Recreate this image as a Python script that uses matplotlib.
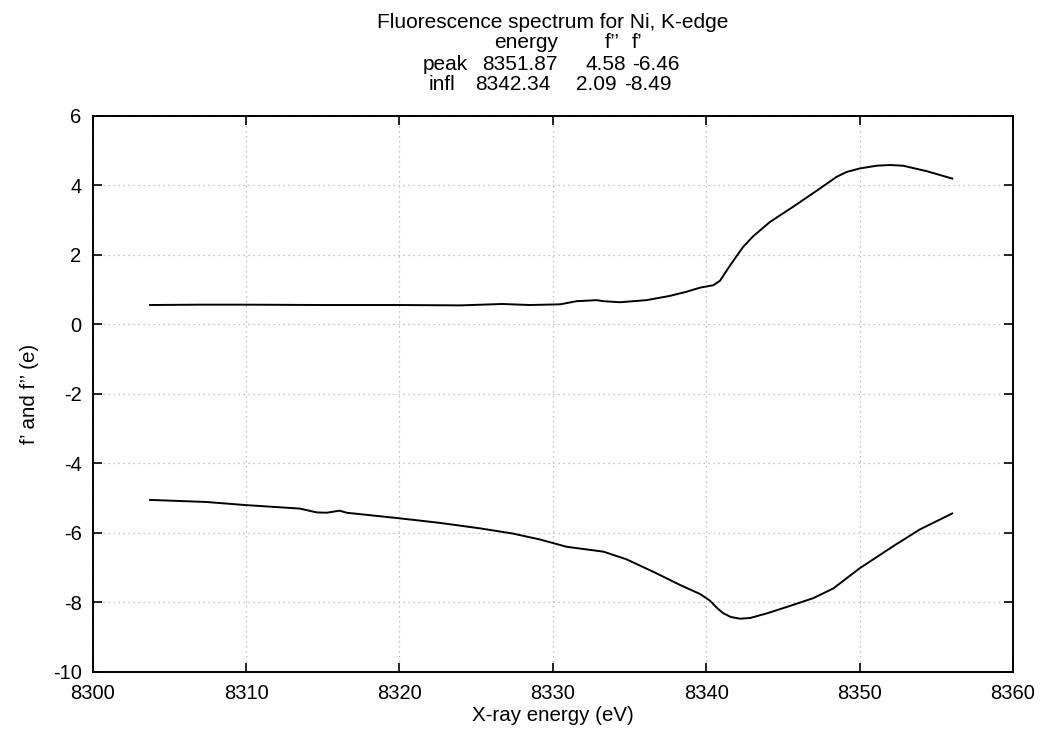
import matplotlib
matplotlib.use("Agg")
import matplotlib.pyplot as plt

plt.rcParams['font.family'] = ['Liberation Sans', 'DejaVu Sans']
plt.rcParams['axes.unicode_minus'] = False

# f'' (upper curve)
fpp_energy = [8303.74, 8307.0, 8310.0, 8315.0, 8320.0, 8324.0, 8326.7, 8328.5, 8330.47,
              8331.55, 8332.85, 8333.3, 8334.38, 8336.1, 8337.6, 8338.7, 8339.6, 8340.46,
              8340.9, 8341.6, 8342.4, 8343.06, 8344.15, 8345.67, 8347.2, 8348.5, 8349.15,
              8350.0, 8351.1, 8351.97, 8352.84, 8354.4, 8356.04]
fpp_value = [0.55, 0.56, 0.56, 0.55, 0.55, 0.54, 0.58, 0.55, 0.57,
             0.66, 0.69, 0.66, 0.63, 0.69, 0.81, 0.93, 1.05, 1.12,
             1.25, 1.72, 2.22, 2.53, 2.94, 3.38, 3.84, 4.24, 4.38,
             4.48, 4.56, 4.58, 4.56, 4.40, 4.19]

# f' (lower curve)
fp_energy = [8303.74, 8307.4, 8310.0, 8313.5, 8314.6, 8315.25, 8316.1, 8316.56, 8320.0,
             8322.6, 8325.26, 8327.4, 8329.16, 8330.9, 8333.3, 8334.8, 8336.55, 8338.3,
             8339.6, 8340.24, 8340.7, 8341.1, 8341.6, 8342.2, 8342.86, 8344.0, 8345.2,
             8346.97, 8348.28, 8350.0, 8352.2, 8353.93, 8356.04]
fp_value = [-5.06, -5.12, -5.21, -5.31, -5.42, -5.43, -5.37, -5.43, -5.59,
            -5.72, -5.88, -6.03, -6.20, -6.41, -6.55, -6.77, -7.13, -7.51,
            -7.77, -7.96, -8.17, -8.32, -8.43, -8.48, -8.46, -8.32, -8.15,
            -7.89, -7.61, -7.03, -6.39, -5.91, -5.45]

# summary table shown in the title
table_header = ["energy", "f\u2019\u2019", "f\u2019"]
table_rows = ["peak", "infl"]
table_energy = ["8351.87", "8342.34"]
table_fpp = ["4.58", "2.09"]
table_fp = ["-6.46", "-8.49"]

W, H = 1042, 738
fig = plt.figure(figsize=(W / 100, H / 100), dpi=100)
ax = fig.add_axes([92.7 / W, 1 - 671.5 / H, (1013 - 92.7) / W, (671.5 - 115.7) / H])

ax.plot(fpp_energy, fpp_value, color='black', lw=1.4)
ax.plot(fp_energy, fp_value, color='black', lw=1.4)

ax.set_xlim(8300, 8360)
ax.set_ylim(-10, 6)
ax.set_xticks(range(8300, 8361, 10))
ax.set_yticks(range(-10, 7, 2))
ax.grid(True, color='#b0b0b0', linestyle=(0, (1, 3)), lw=0.9)
ax.tick_params(direction='in', top=True, right=True, length=6.5, width=1.2,
               labelsize=14.5)
ax.tick_params(axis='x', pad=9)
ax.tick_params(axis='y', pad=8)
for s in ax.spines.values():
    s.set_linewidth(1.4)

ax.set_xlabel("X-ray energy (eV)", fontsize=14.8, labelpad=2)
ax.set_ylabel("f\u2019 and f\u2019\u2019 (e)", fontsize=14.8, labelpad=10)

# title block (pixel positions, right edges of each column)
def ptext(x, y, s):
    fig.text(x / W, 1 - y / H, s, fontsize=15, ha='right', va='center')

fig.text(552.5 / W, 1 - 23 / H, "Fluorescence spectrum for Ni, K-edge",
         fontsize=15, ha='center', va='center')
for x, s in zip([558, 620, 642], table_header):
    ptext(x, 43, s)
row_y = [64, 84]
row_x = [(468, 558, 626, 680), (455, 550, 617, 672)]
for i in range(len(table_rows)):
    xs = row_x[i]
    ptext(xs[0], row_y[i], table_rows[i])
    ptext(xs[1], row_y[i], table_energy[i])
    ptext(xs[2], row_y[i], table_fpp[i])
    ptext(xs[3], row_y[i], table_fp[i])

fig.savefig("out.png", dpi=100)
